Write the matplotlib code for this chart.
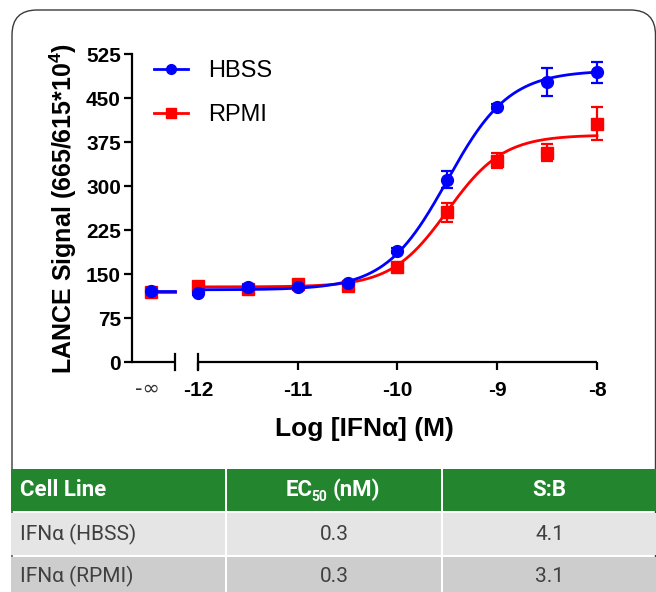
import numpy as np
import matplotlib
matplotlib.use('Agg')
import matplotlib.pyplot as plt
from matplotlib.patches import FancyBboxPatch, Rectangle
from matplotlib.transforms import IdentityTransform, blended_transform_factory
from matplotlib.lines import Line2D

# ---------------- data ----------------
log_conc = [-12, -11.5, -11, -10.5, -10, -9.5, -9, -8.5, -8]
hbss = [117, 127, 127, 134, 190, 311, 435, 477, 494]
hbss_err = [3, 4, 3, 3, 5, 15, 4, 24, 18]
rpmi = [130, 124, 133, 129, 162, 255, 343, 357, 406]
rpmi_err = [4, 5, 4, 4, 6, 16, 13, 14, 28]
hbss_neg_inf = 121
rpmi_neg_inf = 120

# four-parameter logistic fit parameters (bottom, top, logEC50, hill)
hbss_fit = (123, 497, -9.5, 1.4)
rpmi_fit = (128, 387, -9.5, 1.55)

y_ticks = [0, 75, 150, 225, 300, 375, 450, 525]
x_ticks = [-12, -11, -10, -9, -8]
x_tick_labels = ['-12', '-11', '-10', '-9', '-8']

table_header = ['Cell Line', 'EC', '50', '(nM)', 'S:B']
table_rows = [['IFNα (HBSS)', '0.3', '4.1'],
              ['IFNα (RPMI)', '0.3', '3.1']]

# ---------------- style ----------------
W, H = 656, 592
plt.rcParams['font.family'] = ['Liberation Sans', 'DejaVu Sans']
plt.rcParams['mathtext.fontset'] = 'custom'
plt.rcParams['mathtext.bf'] = 'Liberation Sans:bold'
plt.rcParams['mathtext.rm'] = 'Liberation Sans'
plt.rcParams['mathtext.default'] = 'bf'

BLUE = '#0000FF'
RED = '#FF0000'
GREEN = '#23862F'
ROW1 = '#E5E5E5'
ROW2 = '#CDCDCD'

fig = plt.figure(figsize=(W / 100, H / 100), dpi=100)


def fx(px):
    return px / W


def fy(py):
    return 1 - py / H


# rounded frame (display pixel coordinates)
frame = FancyBboxPatch((12, -40), 643.5, H - 10 + 40,
                       boxstyle='round,pad=0,rounding_size=25',
                       transform=IdentityTransform(), facecolor='none',
                       edgecolor='#3a3a3a', linewidth=1.0, zorder=-1)
fig.patches.append(frame)

# axes
ax_left, ax_right, ax_top, ax_bot = 132, 597, 54, 362
ax = fig.add_axes([fx(ax_left), fy(ax_bot), (ax_right - ax_left) / W,
                   (ax_bot - ax_top) / H])
ax.set_zorder(1)
ax.patch.set_alpha(0)
px_per_dec = (597 - 198) / 4.0
x_min = -12 - (198 - ax_left) / px_per_dec
ax.set_xlim(x_min, -8)
ax.set_ylim(0, 525)
X_NEG_INF = -12 - (198 - 151) / px_per_dec
X_BREAK = -12 - (198 - 175) / px_per_dec

for s in ['top', 'right', 'bottom']:
    ax.spines[s].set_visible(False)
ax.spines['left'].set_linewidth(1.6)

ax.set_yticks(y_ticks)
ax.set_yticklabels([str(v) for v in y_ticks])
ax.tick_params(axis='y', direction='out', length=6, width=1.6, labelsize=15,
               pad=2)
ax.set_xticks(x_ticks)
ax.set_xticklabels(x_tick_labels)
ax.tick_params(axis='x', direction='out', length=6, width=1.6, labelsize=15,
               pad=8)
for lbl in ax.get_yticklabels() + ax.get_xticklabels():
    lbl.set_fontweight('bold')

trans = blended_transform_factory(ax.transData, ax.transAxes)
ax.plot([x_min, X_BREAK], [0, 0], color='black', lw=1.6, transform=trans,
        clip_on=False, solid_capstyle='butt')
ax.plot([-12, -8], [0, 0], color='black', lw=1.6, transform=trans,
        clip_on=False, solid_capstyle='butt')
dy = 8 / (ax_bot - ax_top)
for xc in [X_BREAK, -12]:
    ax.plot([xc, xc], [-dy, dy], color='black', lw=1.6, transform=trans,
            clip_on=False)
ax.text(X_NEG_INF - 0.04, -0.085, '-∞', transform=trans, ha='center',
        va='center', fontsize=15, color='#333333', family='DejaVu Sans')


def four_pl(x, p):
    b, t, ec, h = p
    return b + (t - b) / (1 + 10 ** ((ec - x) * h))


xs = np.linspace(-12, -8, 300)
for vals, errs, inf_val, fit, col, mk, z in [
        (rpmi, rpmi_err, rpmi_neg_inf, rpmi_fit, RED, 's', 3),
        (hbss, hbss_err, hbss_neg_inf, hbss_fit, BLUE, 'o', 4)]:
    ax.plot(xs, four_pl(xs, fit), color=col, lw=2.0, zorder=z, clip_on=False)
    ax.plot([X_NEG_INF, X_BREAK], [inf_val, inf_val], color=col, lw=2.0,
            zorder=z, clip_on=False)
    ax.errorbar(log_conc, vals, yerr=errs, fmt=mk, color=col, ms=8.5,
                elinewidth=1.6, capsize=4.5, capthick=1.6, zorder=z + 0.5,
                clip_on=False)
    ax.plot([X_NEG_INF], [inf_val], marker=mk, color=col, ms=8.5,
            zorder=z + 0.5, clip_on=False)

ax.set_ylabel('LANCE Signal (665/615*10$^{4}$)', fontsize=18,
              fontweight='bold', labelpad=5)
ax.set_xlabel('Log [IFNα] (M)', fontsize=19, fontweight='bold', labelpad=12)

handles = [Line2D([], [], color=BLUE, marker='o', ms=7, lw=2),
           Line2D([], [], color=RED, marker='s', ms=7, lw=2)]
ax.legend(handles, ['HBSS', 'RPMI'], loc='upper left',
          bbox_to_anchor=(fx(154), fy(60)), bbox_transform=fig.transFigure,
          frameon=False, fontsize=17, handlelength=1.45, handletextpad=0.85,
          labelspacing=0.95, borderpad=0, borderaxespad=0)

# ---------------- table ----------------
col_edges = [(11, 225), (227, 441), (443, 660)]
row_edges = [(469, 511, GREEN), (513, 555, ROW1), (557, 600, ROW2)]
for (y0, y1, c) in row_edges:
    for (x0, x1) in col_edges:
        r = Rectangle((x0, H - y1), x1 - x0, y1 - y0, facecolor=c,
                      edgecolor='none', transform=IdentityTransform(),
                      zorder=2)
        fig.patches.append(r)

TFONT = 'Roboto'
TSIZE = 16
hy = (row_edges[0][0] + row_edges[0][1]) / 2
hdr = dict(va='center', color='white', fontweight='bold', family=TFONT,
           zorder=5)
fig.text(fx(20), fy(hy), table_header[0], ha='left', fontsize=TSIZE, **hdr)
fig.text(fx(313), fy(hy), table_header[1], ha='right', fontsize=TSIZE, **hdr)
fig.text(fx(311), fy(hy + 7), table_header[2], ha='left', fontsize=10, **hdr)
fig.text(fx(333), fy(hy), table_header[3], ha='left', fontsize=TSIZE, **hdr)
fig.text(fx((443 + 656) / 2), fy(hy), table_header[4], ha='center',
         fontsize=TSIZE, **hdr)

row_centers = [534, 576]
body = dict(va='center', color='#404040', fontsize=15, family=TFONT,
            fontweight='normal', zorder=5)
for i, row in enumerate(table_rows):
    for j, txt in enumerate(row):
        x0, x1 = col_edges[j]
        if j == 0:
            fig.text(fx(20), fy(row_centers[i]), txt, ha='left', **body)
        else:
            fig.text(fx((x0 + min(x1, 656)) / 2), fy(row_centers[i]), txt,
                     ha='center', **body)

fig.savefig('out.png', dpi=100)
